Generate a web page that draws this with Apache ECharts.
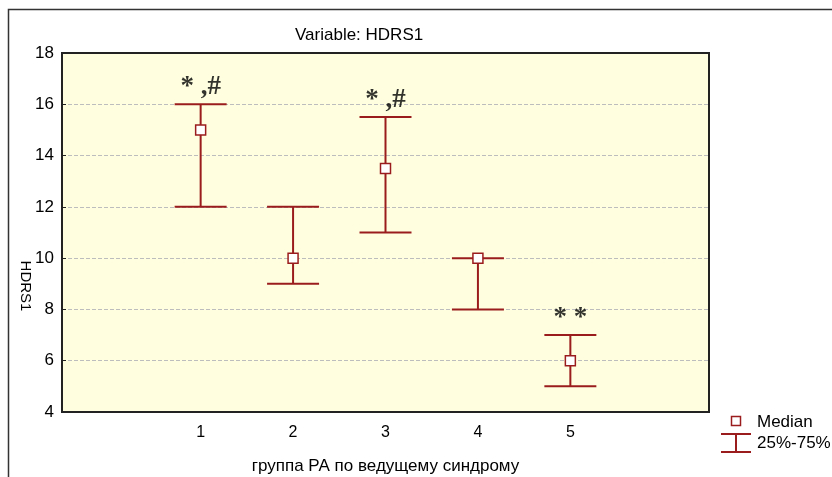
<!DOCTYPE html>
<html>
<head>
<meta charset="utf-8">
<script src="https://cdn.jsdelivr.net/npm/echarts@6/dist/echarts.min.js"></script>
<style>
  html, body { margin: 0; padding: 0; background: #ffffff; }
  #chart { width: 832px; height: 477px; }
</style>
</head>
<body>
<div id="chart"></div>
<script>
// Groups of RA patients by leading syndrome
const groups = ['1', '2', '3', '4', '5'];
// HDRS1 quartiles and medians per group
const q25 = [12, 9, 11, 8, 5];
const q75 = [16, 12, 15.5, 10, 7];
const median = [15, 10, 13.5, 10, 6];
// Significance marks drawn above the upper quartile
const marks = ['* ,#', '', '* ,#', '', '* *'];
const yTicks = { min: 4, max: 18, step: 2 };

const BAR = '#9b1c1c';
const FONT = '"Liberation Sans", Arial, sans-serif';

// padded category axis: empty slots at both ends
const axisCats = [''].concat(groups, ['']);

const rangeData = groups.map((g, i) => [i + 1, q25[i], q75[i]]);
const medianData = groups.map((g, i) => [i + 1, median[i]]);
const markData = groups.map((g, i) => ({ value: [i + 1, q75[i]], mark: marks[i] }));

const chart = echarts.init(document.getElementById('chart'), null, { renderer: 'canvas' });

chart.setOption({
  animation: false,
  backgroundColor: '#ffffff',
  title: {
    text: 'Variable: HDRS1',
    left: 290,
    top: 22,
    textStyle: { fontFamily: FONT, fontSize: 17, fontWeight: 'normal', color: '#000' }
  },
  grid: {
    left: 62, right: 123, top: 53, bottom: 65,
    containLabel: false,
    outerBoundsMode: 'none',
    show: true, backgroundColor: '#ffffe0', borderColor: '#222', borderWidth: 2
  },
  xAxis: [{
    type: 'category',
    data: axisCats,
    position: 'bottom',
    name: 'группа РА по ведущему синдрому',
    nameLocation: 'middle',
    nameGap: 46,
    nameTextStyle: { fontFamily: FONT, fontSize: 17, color: '#000' },
    axisLine: { lineStyle: { color: '#222', width: 2 } },
    axisTick: { inside: true, alignWithLabel: true, length: 5, lineStyle: { color: '#222' } },
    axisLabel: { fontFamily: FONT, fontSize: 16, color: '#000', margin: 13 },
    splitLine: { show: false }
  }, {
    type: 'category',
    data: axisCats,
    position: 'top',
    axisLine: { lineStyle: { color: '#222', width: 2 } },
    axisTick: { inside: true, alignWithLabel: true, length: 5, lineStyle: { color: '#222' } },
    axisLabel: { show: false },
    splitLine: { show: false }
  }],
  yAxis: [{
    type: 'value',
    min: yTicks.min, max: yTicks.max, interval: yTicks.step,
    axisLine: { show: true, lineStyle: { color: '#222', width: 2 } },
    axisTick: { show: true, inside: true, length: 4, lineStyle: { color: '#222' } },
    axisLabel: { fontFamily: FONT, fontSize: 17, color: '#000', margin: 8 },
    splitLine: { show: true, lineStyle: { color: '#bdbdbd', type: [4, 2], width: 1 } }
  }, {
    type: 'value',
    min: yTicks.min, max: yTicks.max, interval: yTicks.step,
    position: 'right',
    axisLine: { show: true, lineStyle: { color: '#222', width: 2 } },
    axisTick: { show: false },
    axisLabel: { show: false },
    splitLine: { show: false }
  }],
  series: [{
    // 25%-75% whiskers with caps
    type: 'custom',
    xAxisIndex: 0, yAxisIndex: 0,
    data: rangeData,
    z: 3,
    renderItem: function (params, api) {
      const x = api.value(0);
      const lo = api.coord([x, api.value(1)]);
      const hi = api.coord([x, api.value(2)]);
      const half = 26;
      const style = { stroke: BAR, lineWidth: 2 };
      return {
        type: 'group',
        children: [
          { type: 'line', shape: { x1: lo[0], y1: lo[1], x2: hi[0], y2: hi[1] }, style: style },
          { type: 'line', shape: { x1: lo[0] - half, y1: lo[1], x2: lo[0] + half, y2: lo[1] }, style: style },
          { type: 'line', shape: { x1: hi[0] - half, y1: hi[1], x2: hi[0] + half, y2: hi[1] }, style: style }
        ]
      };
    }
  }, {
    // medians
    type: 'scatter',
    data: medianData,
    symbol: 'rect',
    symbolSize: 10,
    z: 5,
    itemStyle: { color: '#ffffff', borderColor: BAR, borderWidth: 1.5, opacity: 1 }
  }, {
    // significance marks
    type: 'scatter',
    data: markData,
    symbolSize: 1,
    itemStyle: { color: 'rgba(0,0,0,0)' },
    silent: true,
    z: 6,
    label: {
      show: true,
      position: 'top',
      distance: 3,
      formatter: p => p.data.mark,
      fontFamily: '"Liberation Serif", "Times New Roman", serif',
      fontSize: 27,
      fontWeight: 'bold',
      color: '#000'
    }
  }],
  graphic: [
    // outer frame
    { type: 'rect', silent: true, shape: { x: 8.5, y: 9.5, width: 1000, height: 1000 },
      style: { fill: 'none', stroke: '#333', lineWidth: 1.5 } },
    // y axis name
    { type: 'text', silent: true, x: 25, y: 286, rotation: -Math.PI / 2,
      style: { text: 'HDRS1', fontFamily: FONT, fontSize: 15, fill: '#000', align: 'center', verticalAlign: 'middle' } },
    // legend: median
    { type: 'rect', silent: true, shape: { x: 731.5, y: 416.5, width: 9, height: 9 },
      style: { fill: '#fff', stroke: BAR, lineWidth: 1.5 } },
    { type: 'text', silent: true, x: 757, y: 422,
      style: { text: 'Median', fontFamily: FONT, fontSize: 17, fill: '#000', verticalAlign: 'middle' } },
    // legend: quartile range
    { type: 'line', silent: true, shape: { x1: 721, y1: 434, x2: 751, y2: 434 }, style: { stroke: BAR, lineWidth: 2 } },
    { type: 'line', silent: true, shape: { x1: 736, y1: 434, x2: 736, y2: 452 }, style: { stroke: BAR, lineWidth: 2 } },
    { type: 'line', silent: true, shape: { x1: 721, y1: 452, x2: 751, y2: 452 }, style: { stroke: BAR, lineWidth: 2 } },
    { type: 'text', silent: true, x: 757, y: 443,
      style: { text: '25%-75%', fontFamily: FONT, fontSize: 17, fill: '#000', verticalAlign: 'middle' } }
  ]
});
</script>
</body>
</html>
